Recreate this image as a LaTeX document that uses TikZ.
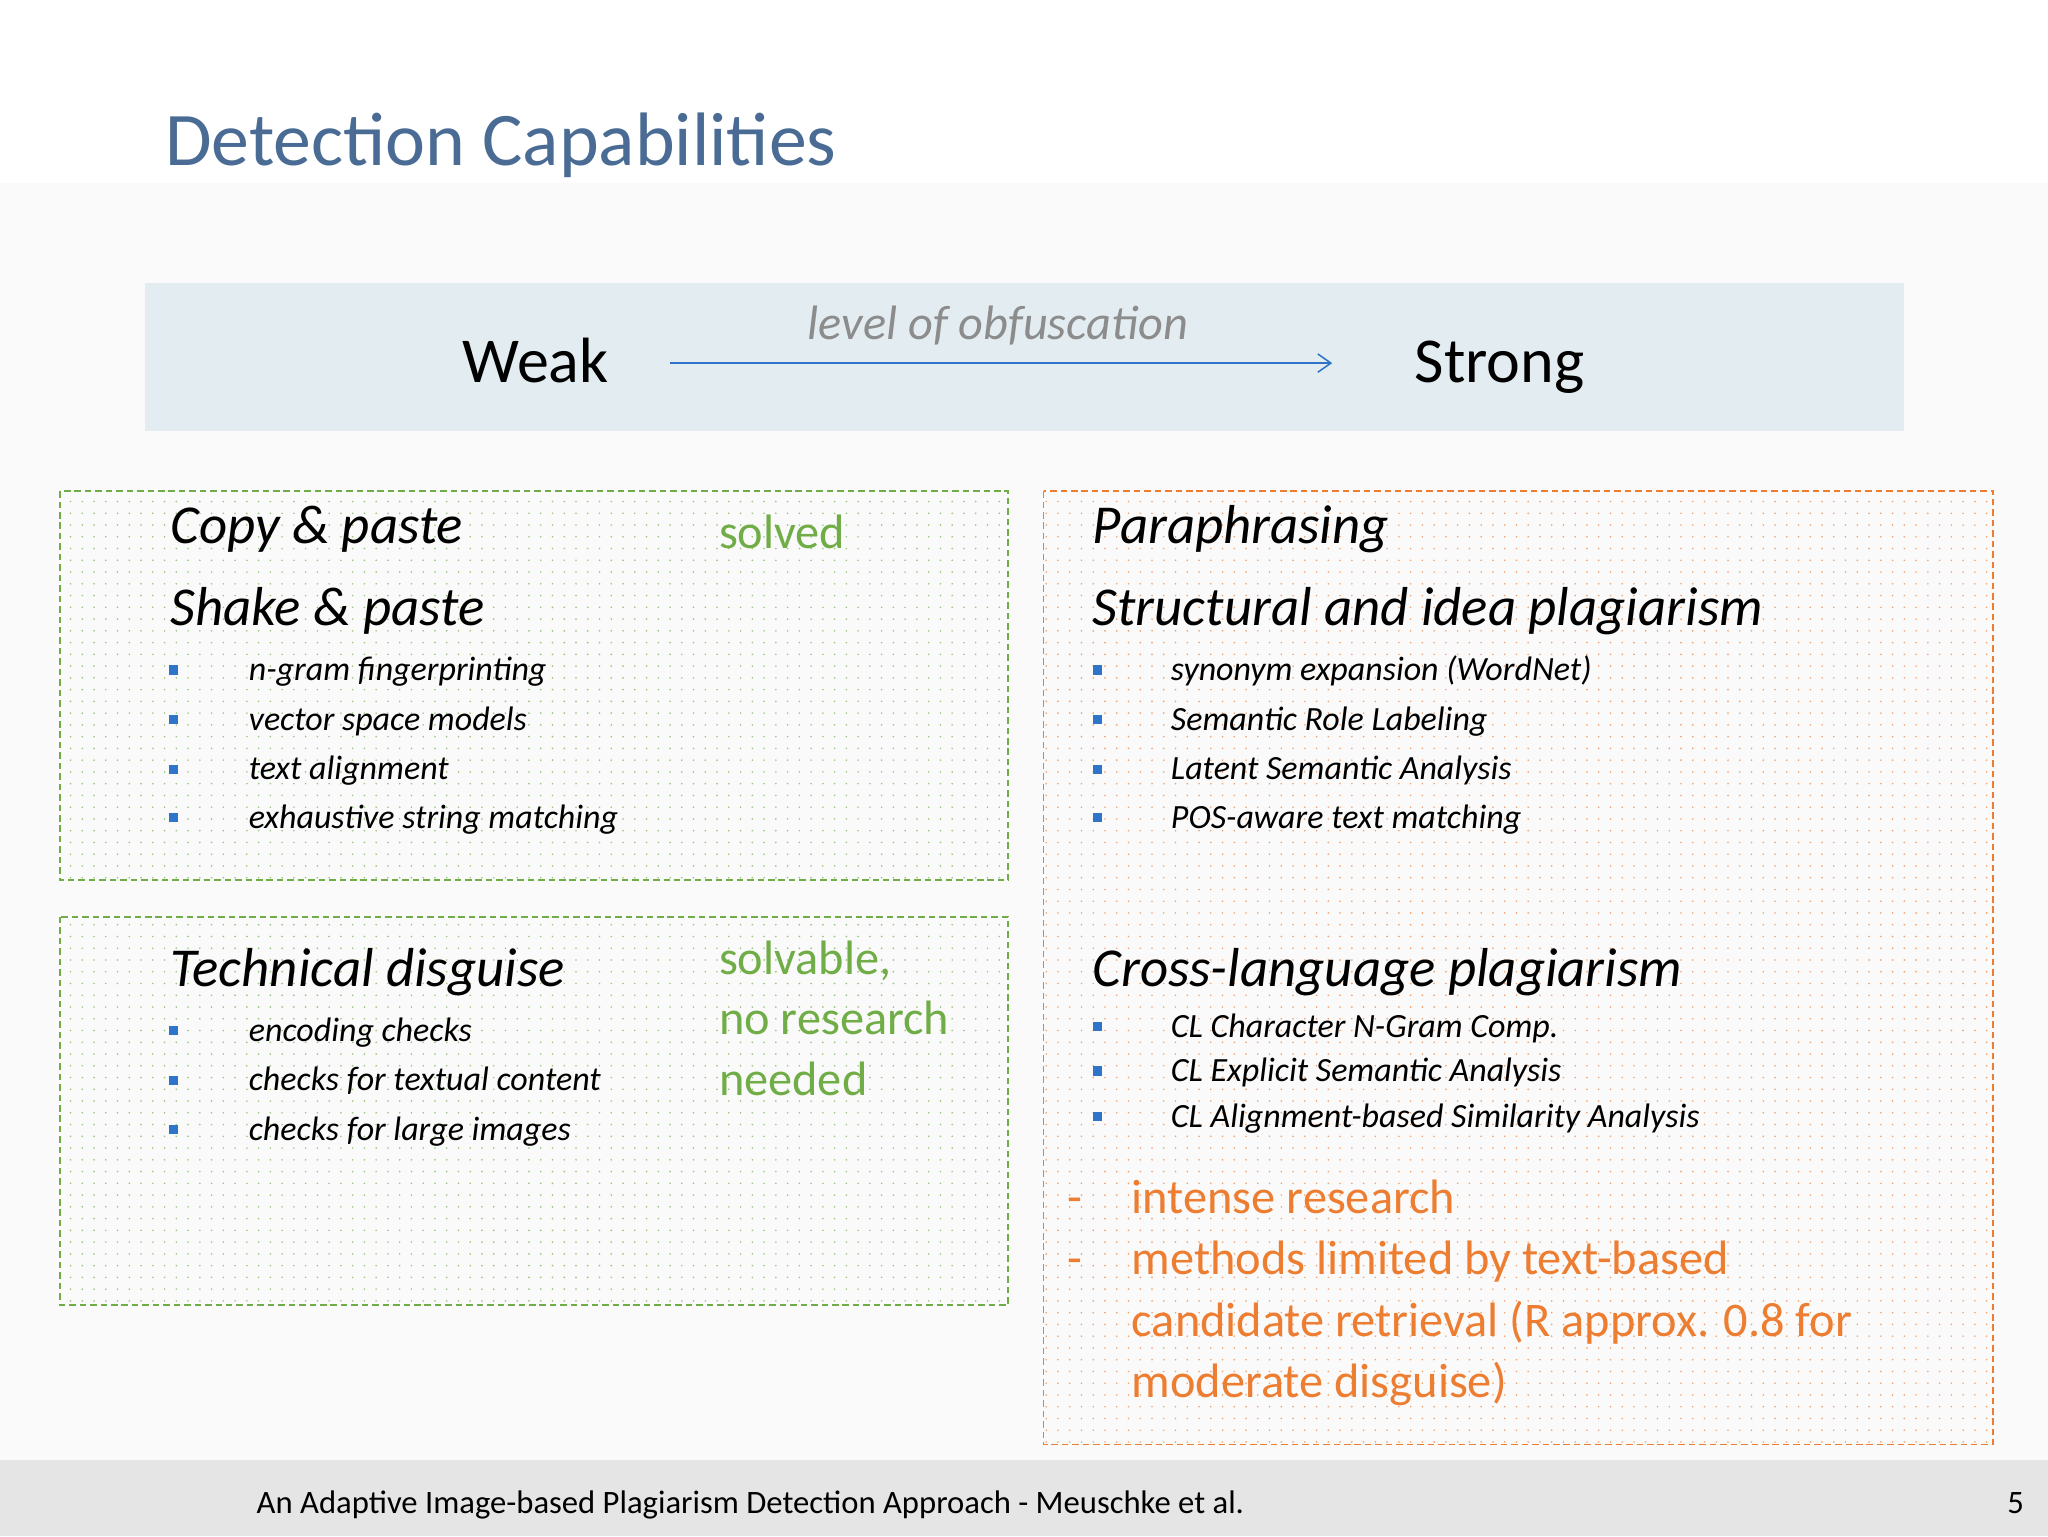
\documentclass[tikz,border=0pt]{standalone}
\usepackage{fontspec}
\setmainfont{Carlito}
\usetikzlibrary{patterns.meta,arrows.meta}
\definecolor{titleblue}{HTML}{4A6C94}
\definecolor{band}{HTML}{E3EDF1}
\definecolor{gr}{HTML}{70AD47}
\definecolor{og}{HTML}{ED7D31}
\definecolor{bul}{HTML}{2E74C8}
\tikzset{
  head/.style={anchor=base west,font=\fontsize{42}{46}\selectfont\itshape},
  item/.style={anchor=base west,font=\fontsize{26}{30}\selectfont\itshape},
  sq/.style={fill=bul,minimum size=7pt,inner sep=0pt},
  note/.style={anchor=base west,font=\fontsize{37}{46}\selectfont},
  box/.style={dash pattern=on 5pt off 3pt,line width=1.3pt},
}
\begin{document}
\begin{tikzpicture}[x=1pt,y=-1pt]
\useasboundingbox (0,0) rectangle (1568,1176);
\fill[white] (0,0) rectangle (1568,1176);
\fill[black!2] (0,140) rectangle (1568,1118);
\fill[band] (111,217) rectangle (1458,330);
\fill[black!10] (0,1118) rectangle (1568,1176);
\node[anchor=base west,text=titleblue,font=\fontsize{58}{62}\selectfont] (title) at (123,127) {Detection Capabilities};
\node[anchor=base,font=\fontsize{49}{52}\selectfont] (weak) at (410,293) {Weak};
\node[anchor=base,font=\fontsize{49}{52}\selectfont] (strong) at (1148,293) {Strong};
\coordinate (a1) at (513,278); \coordinate (a2) at (1020,278);
\draw[bul,line width=1.2pt,-{Straight Barb[length=10pt,width=14pt]}] (a1) -- (a2);
\node[anchor=base,text=black!45,font=\fontsize{37}{40}\selectfont\itshape] (lev) at (764,260) {level of obfuscation};
% boxes
\path[pattern={Dots[distance=9pt,radius=0.7pt]},pattern color=gr!70] (46,376) rectangle (772,674);
\path[pattern={Dots[distance=9pt,radius=0.7pt]},pattern color=gr!70] (46,702) rectangle (772,999);
\path[pattern={Dots[distance=9pt,radius=0.7pt]},pattern color=og!70] (799,376) rectangle (1526,1106);
\draw[gr,box] (46,376) rectangle (772,674);
\draw[gr,box] (46,702) rectangle (772,999);
\draw[og,box] (799,376) rectangle (1526,1106);
% left top
\node[head] (cp) at (127,416) {Copy \& paste};
\node[head] (sp) at (127,479) {Shake \& paste};
\node[note,text=gr] (solved) at (547,420) {solved};
\foreach \y/\t in {513/n-gram fingerprinting,551/vector space models,589/text alignment,626/exhaustive string matching}{
  \node[sq] at (133,\y) {}; \node[item] at (187,\y+8) {\t};}
% left bottom
\node[head] (td) at (127,755) {Technical disguise};
\node[note,text=gr] (s1) at (547,746) {solvable,};
\node[note,text=gr] (s2) at (547,792) {no research};
\node[note,text=gr] (s3) at (547,839) {needed};
\foreach \y/\t in {789/encoding checks,827/checks for textual content,865/checks for large images}{
  \node[sq] at (133,\y) {}; \node[item] at (187,\y+8) {\t};}
% right
\node[head] (pa) at (833,416) {Paraphrasing};
\node[head] (st) at (833,479) {Structural and idea plagiarism};
\foreach \y/\t in {513/synonym expansion (WordNet),551/Semantic Role Labeling,589/Latent Semantic Analysis,626/POS-aware text matching}{
  \node[sq] at (840,\y) {}; \node[item] at (893,\y+8) {\t};}
\node[head] (cl) at (833,755) {Cross-language plagiarism};
\foreach \y/\t in {786/CL Character N-Gram Comp.,820/CL Explicit Semantic Analysis,855/CL Alignment-based Similarity Analysis}{
  \node[sq] at (840,\y) {}; \node[item] at (893,\y+8) {\t};}
\node[note,text=og] (d1) at (814,929) {-};
\node[note,text=og] (d2) at (814,976) {-};
\node[note,text=og] (n1) at (863,929) {intense research};
\node[note,text=og] (n2) at (863,976) {methods limited by text-based};
\node[note,text=og] (n3) at (863,1023) {candidate retrieval (R approx. 0.8 for};
\node[note,text=og] (n4) at (863,1070) {moderate disguise)};
% footer
\node[anchor=base west,font=\fontsize{25}{28}\selectfont] (foot) at (193,1159) {An Adaptive Image-based Plagiarism Detection Approach - Meuschke et al.};
\node[anchor=base east,font=\fontsize{25}{28}\selectfont] (pg) at (1553,1159) {5};
\end{tikzpicture}
\end{document}
